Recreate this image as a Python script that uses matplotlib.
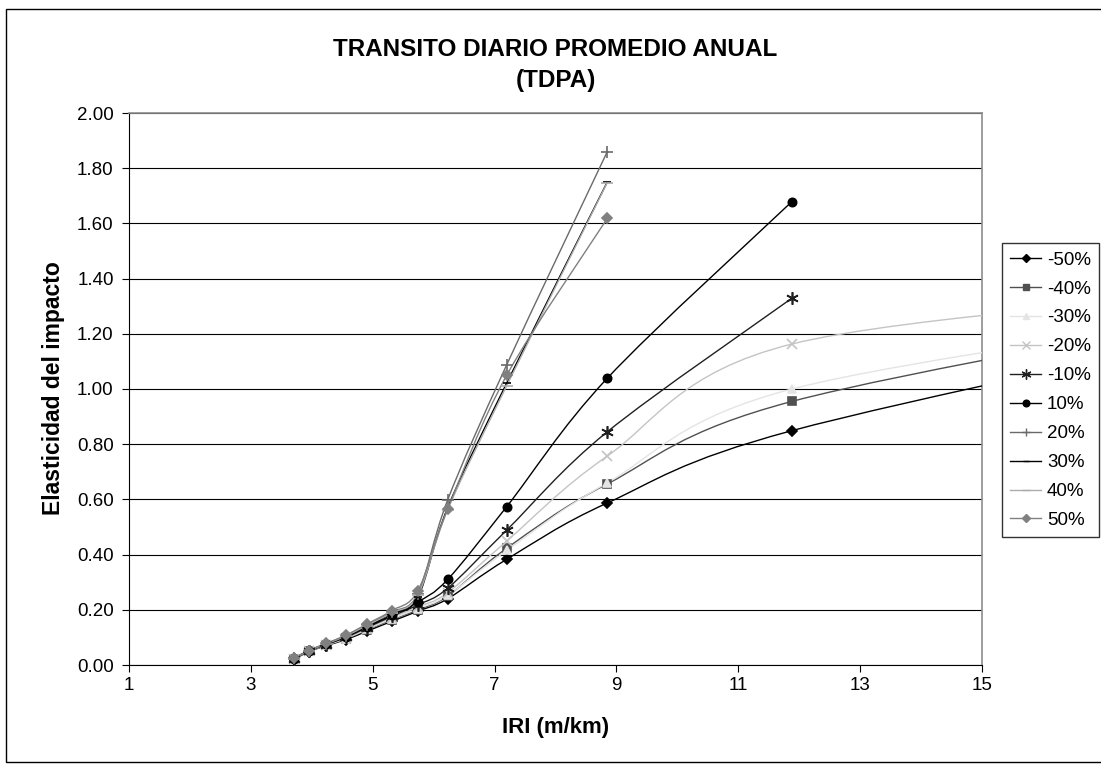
import matplotlib
matplotlib.use("Agg")
import matplotlib.pyplot as plt
from matplotlib.path import Path
from matplotlib.patches import PathPatch, Rectangle
from matplotlib.lines import Line2D
from matplotlib.ticker import FormatStrFormatter, MultipleLocator

plt.rcParams['font.family'] = ['Liberation Sans', 'DejaVu Sans']

# IRI (m/km) at which each scenario was evaluated
iri = [3.70, 3.95, 4.23, 4.56, 4.90, 5.31, 5.74, 6.23, 7.20, 8.85, 11.88, 20.0]

labels = ['-50%', '-40%', '-30%', '-20%', '-10%', '10%', '20%', '30%', '40%', '50%']

e_m50 = [0.020, 0.048, 0.070, 0.092, 0.122, 0.158, 0.195, 0.240, 0.383, 0.587, 0.849, 1.25]
e_m40 = [0.021, 0.049, 0.072, 0.095, 0.127, 0.164, 0.200, 0.250, 0.423, 0.656, 0.955, 1.31]
e_m30 = [0.021, 0.049, 0.072, 0.096, 0.129, 0.167, 0.204, 0.252, 0.415, 0.660, 1.000, 1.30]
e_m20 = [0.022, 0.050, 0.073, 0.098, 0.132, 0.172, 0.210, 0.262, 0.449, 0.757, 1.163, 1.37]
e_m10 = [0.022, 0.050, 0.074, 0.100, 0.135, 0.176, 0.218, 0.278, 0.489, 0.845, 1.329]
e_p10 = [0.023, 0.051, 0.075, 0.102, 0.138, 0.180, 0.228, 0.310, 0.574, 1.039, 1.679]
e_p20 = [0.024, 0.052, 0.077, 0.106, 0.145, 0.192, 0.258, 0.598, 1.088, 1.860]
e_p30 = [0.023, 0.051, 0.076, 0.104, 0.141, 0.186, 0.245, 0.570, 1.022, 1.750]
e_p40 = [0.023, 0.051, 0.076, 0.105, 0.143, 0.189, 0.252, 0.562, 1.012, 1.748]
e_p50 = [0.024, 0.052, 0.078, 0.108, 0.148, 0.197, 0.269, 0.565, 1.050, 1.618]

series = [e_m50, e_m40, e_m30, e_m20, e_m10, e_p10, e_p20, e_p30, e_p40, e_p50]

x_ticks = [1, 3, 5, 7, 9, 11, 13, 15]

# (line colour, marker, marker size)
styles = [
    ('#000000', 'D', 5),
    ('#505050', 's', 6),
    ('#e4e4e4', '^', 6),
    ('#c4c4c4', 'x', 7),
    ('#202020', (6, 2, 0), 9),
    ('#000000', 'o', 6),
    ('#6a6a6a', '+', 8),
    ('#000000', '_', 6),
    ('#acacac', '_', 8),
    ('#808080', 'D', 5),
]


def smooth_path(xs, ys):
    """Cubic Bezier path through the points (spreadsheet-style smoothed line)."""
    pts = list(zip(xs, ys))
    n = len(pts)
    verts = [pts[0]]
    codes = [Path.MOVETO]
    for i in range(n - 1):
        p0 = pts[i - 1] if i > 0 else pts[i]
        p1 = pts[i]
        p2 = pts[i + 1]
        p3 = pts[i + 2] if i + 2 < n else pts[i + 1]
        c1 = (p1[0] + (p2[0] - p0[0]) / 6.0, p1[1] + (p2[1] - p0[1]) / 6.0)
        c2 = (p2[0] - (p3[0] - p1[0]) / 6.0, p2[1] - (p3[1] - p1[1]) / 6.0)
        verts += [c1, c2, p2]
        codes += [Path.CURVE4] * 3
    return Path(verts, codes)


W, H = 1101, 772
fig = plt.figure(figsize=(W / 100, H / 100), dpi=100)
fig.patch.set_facecolor('white')

# outer chart frame (runs off the right edge, like the legend box)
fig.add_artist(Rectangle((5.5 / W, 1 - 762 / H), (1120 - 5.5) / W, (762 - 9) / H,
                         transform=fig.transFigure, fill=False,
                         edgecolor='black', lw=1.0))

ax = fig.add_axes([129 / W, 1 - 665 / H, (982 - 129) / W, (665 - 113) / H])
ax.set_xlim(1, 15)
ax.set_ylim(0, 2.0)

ax.set_xticks(x_ticks)
ax.yaxis.set_major_locator(MultipleLocator(0.2))
ax.yaxis.set_major_formatter(FormatStrFormatter('%.2f'))
ax.tick_params(axis='both', direction='out', length=5, width=0.8,
               labelsize=13.5, colors='black')
ax.tick_params(axis='x', pad=4)
ax.tick_params(axis='y', pad=6)

ax.grid(axis='y', color='black', lw=0.8)
ax.set_axisbelow(True)
for side in ('top', 'right'):
    ax.spines[side].set_color('#8c8c8c')
    ax.spines[side].set_linewidth(1.2)
for side in ('left', 'bottom'):
    ax.spines[side].set_color('black')
    ax.spines[side].set_linewidth(0.8)

handles = []
for ys, lab, (col, mk, ms) in zip(series, labels, styles):
    xs = iri[:len(ys)]
    patch = PathPatch(smooth_path(xs, ys), fill=False, edgecolor=col,
                      lw=1.0, zorder=3)
    ax.add_patch(patch)
    ax.plot(xs, ys, linestyle='none', marker=mk, markersize=ms,
            markerfacecolor=col, markeredgecolor=col, markeredgewidth=1.2,
            zorder=4, clip_on=True)
    handles.append(Line2D([], [], color=col, lw=1.0, marker=mk,
                          markersize=ms * 0.8, markerfacecolor=col,
                          markeredgecolor=col, markeredgewidth=1.0, label=lab))

fig.text(555.5 / W, 1 - 49 / H, 'TRANSITO DIARIO PROMEDIO ANUAL',
         ha='center', va='center', fontsize=17.5, fontweight='bold')
fig.text(555.5 / W, 1 - 80 / H, '(TDPA)',
         ha='center', va='center', fontsize=17.5, fontweight='bold')

fig.text(555.5 / W, 1 - 727 / H, 'IRI (m/km)', ha='center', va='center',
         fontsize=16, fontweight='bold')
fig.text(53.5 / W, 1 - 388 / H, 'Elasticidad del impacto', ha='center',
         va='center', rotation=90, fontsize=16.5, fontweight='bold')

leg = fig.legend(handles=handles, loc='upper left',
                 bbox_to_anchor=(1002 / W, 1 - 243 / H),
                 bbox_transform=fig.transFigure, fontsize=13.5,
                 frameon=True, fancybox=False, borderaxespad=0,
                 handlelength=1.65, handletextpad=0.3, labelspacing=0.63,
                 borderpad=0.45)
leg.get_frame().set_edgecolor('black')
leg.get_frame().set_linewidth(1.0)

fig.savefig('out.png', dpi=100)
